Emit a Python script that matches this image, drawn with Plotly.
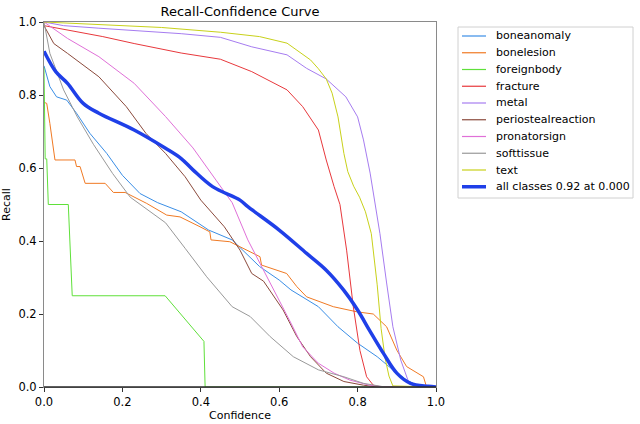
import plotly.graph_objects as go

# recall vs confidence
names = ["boneanomaly", "bonelesion", "foreignbody", "fracture", "metal",
         "periostealreaction", "pronatorsign", "softtissue", "text"]
colors = ["#3a8ee6", "#f07a24", "#5fe03a", "#e8383c", "#a67cf0",
          "#8b4a3c", "#e070d8", "#999999", "#c8d11a"]

boneanomaly_x = [0, 0.015, 0.032, 0.058, 0.083, 0.117, 0.16, 0.20, 0.245, 0.29, 0.35, 0.40,
                 0.42, 0.48, 0.55, 0.60, 0.63, 0.70, 0.75, 0.80, 0.85, 0.89, 0.925, 0.95, 1.0]
boneanomaly_y = [0.88, 0.823, 0.795, 0.786, 0.75, 0.695, 0.64, 0.58, 0.53, 0.505, 0.48, 0.444,
                 0.43, 0.403, 0.33, 0.293, 0.266, 0.22, 0.165, 0.12, 0.083, 0.047, 0.019, 0.005, 0.0]

bonelesion_x = [0, 0.007, 0.015, 0.028, 0.079, 0.083, 0.092, 0.105, 0.156, 0.177, 0.207, 0.262,
                0.313, 0.347, 0.398, 0.423, 0.426, 0.474, 0.551, 0.555, 0.619, 0.645, 0.67,
                0.738, 0.798, 0.84, 0.874, 0.90, 0.925, 0.968, 0.976, 1.0]
bonelesion_y = [0.78, 0.777, 0.722, 0.622, 0.622, 0.604, 0.604, 0.558, 0.558, 0.533, 0.533, 0.503,
                0.471, 0.466, 0.439, 0.425, 0.403, 0.398, 0.357, 0.334, 0.311, 0.275, 0.247,
                0.22, 0.206, 0.20, 0.165, 0.101, 0.056, 0.028, 0.0, 0.0]

foreignbody_x = [0, 0.003, 0.007, 0.011, 0.062, 0.072, 0.309, 0.408, 0.411, 1.0]
foreignbody_y = [0.875, 0.625, 0.625, 0.5, 0.5, 0.25, 0.25, 0.125, 0.0, 0.0]

fracture_x = [0, 0.05, 0.15, 0.23, 0.35, 0.45, 0.53, 0.62, 0.66, 0.70, 0.72, 0.74, 0.755,
              0.772, 0.789, 0.806, 0.823, 0.84, 0.86, 1.0]
fracture_y = [0.99, 0.98, 0.96, 0.941, 0.915, 0.898, 0.864, 0.814, 0.768, 0.704, 0.622, 0.549,
              0.50, 0.375, 0.22, 0.10, 0.028, 0.005, 0.0, 0.0]

metal_x = [0, 0.05, 0.14, 0.25, 0.35, 0.45, 0.53, 0.62, 0.67, 0.72, 0.77, 0.80, 0.815, 0.832,
           0.845, 0.857, 0.874, 0.89, 0.91, 0.93, 0.95, 1.0]
metal_y = [1.0, 0.99, 0.983, 0.975, 0.968, 0.958, 0.932, 0.91, 0.873, 0.844, 0.795, 0.74, 0.677,
           0.586, 0.50, 0.42, 0.285, 0.165, 0.074, 0.014, 0.0, 0.0]

periosteal_x = [0, 0.025, 0.06, 0.14, 0.21, 0.26, 0.31, 0.36, 0.40, 0.46, 0.50, 0.53, 0.56,
                0.61, 0.645, 0.68, 0.72, 0.765, 0.815, 0.85, 1.0]
periosteal_y = [0.99, 0.941, 0.914, 0.85, 0.768, 0.695, 0.64, 0.576, 0.512, 0.439, 0.375, 0.311,
                0.29, 0.211, 0.138, 0.083, 0.038, 0.015, 0.005, 0.0, 0.0]

pronator_x = [0, 0.06, 0.14, 0.23, 0.31, 0.38, 0.44, 0.48, 0.52, 0.56, 0.59, 0.63, 0.66, 0.70,
              0.74, 0.78, 0.83, 0.87, 1.0]
pronator_y = [1.0, 0.955, 0.905, 0.832, 0.741, 0.655, 0.565, 0.505, 0.403, 0.32, 0.26, 0.175,
              0.11, 0.065, 0.038, 0.019, 0.005, 0.0, 0.0]

softtissue_x = [0, 0.015, 0.05, 0.085, 0.126, 0.175, 0.22, 0.27, 0.31, 0.36, 0.415, 0.48, 0.526,
                0.577, 0.636, 0.70, 0.765, 0.815, 0.87, 1.0]
softtissue_y = [1.0, 0.914, 0.814, 0.74, 0.665, 0.585, 0.52, 0.48, 0.45, 0.38, 0.302, 0.22, 0.193,
                0.138, 0.083, 0.047, 0.028, 0.01, 0.0, 0.0]

text_x = [0, 0.1, 0.2, 0.3, 0.45, 0.55, 0.62, 0.68, 0.70, 0.72, 0.735, 0.75, 0.765, 0.775, 0.79,
          0.805, 0.82, 0.835, 0.85, 0.86, 0.87, 0.88, 0.89, 1.0]
text_y = [1.0, 0.995, 0.99, 0.985, 0.972, 0.96, 0.942, 0.896, 0.872, 0.844, 0.805, 0.74, 0.64,
          0.59, 0.55, 0.52, 0.48, 0.42, 0.28, 0.16, 0.08, 0.03, 0.003, 0.0]

all_x = [0, 0.03, 0.06, 0.1, 0.14, 0.23, 0.31, 0.35, 0.38, 0.43, 0.5, 0.52, 0.6, 0.67, 0.72,
         0.764, 0.8, 0.83, 0.866, 0.9, 0.935, 0.98, 1.0]
all_y = [0.92, 0.864, 0.832, 0.777, 0.75, 0.704, 0.654, 0.626, 0.595, 0.549, 0.512, 0.494, 0.43,
         0.366, 0.32, 0.266, 0.211, 0.156, 0.092, 0.038, 0.01, 0.002, 0.0]
all_label = "all classes 0.92 at 0.000"
all_color = "#1f3fe8"

curves = [(boneanomaly_x, boneanomaly_y), (bonelesion_x, bonelesion_y),
          (foreignbody_x, foreignbody_y), (fracture_x, fracture_y), (metal_x, metal_y),
          (periosteal_x, periosteal_y), (pronator_x, pronator_y),
          (softtissue_x, softtissue_y), (text_x, text_y)]

W, H = 640, 424
L, R, T, B = 44, 436, 22, 387  # plot area in pixels


def px_x(p):
    return (p - L) / (R - L)


def px_y(p):
    return (B - p) / (B - T)


fig = go.Figure()
for name, col, (xs, ys) in zip(names, colors, curves):
    fig.add_trace(go.Scatter(x=xs, y=ys, mode="lines", name=name,
                             line=dict(color=col, width=1)))
fig.add_trace(go.Scatter(x=all_x, y=all_y, mode="lines", name=all_label,
                         line=dict(color=all_color, width=3.5, shape="spline")))

# dark bottom edge where all curves pile up at zero
shapes = [dict(type="line", xref="paper", yref="paper", x0=0, x1=1, y0=0, y1=0,
               line=dict(color="#2a2a2a", width=1.3), layer="above")]

# matplotlib-style legend, drawn by hand so the row spacing matches
shapes.append(dict(type="rect", xref="paper", yref="paper",
                   x0=px_x(458), x1=px_x(633), y0=px_y(198), y1=px_y(27),
                   line=dict(color="#d0d0d0", width=1), fillcolor="white", layer="above"))
annotations = []
labels = names + [all_label]
cols = colors + [all_color]
for i, (lab, col) in enumerate(zip(labels, cols)):
    yc = 36 + i * 16.75
    shapes.append(dict(type="line", xref="paper", yref="paper",
                       x0=px_x(462), x1=px_x(486), y0=px_y(yc), y1=px_y(yc),
                       line=dict(color=col, width=3.5 if i == 9 else 1.2)))
    annotations.append(dict(text=lab, xref="paper", yref="paper", x=px_x(494), y=px_y(yc),
                            xanchor="left", yanchor="middle", showarrow=False,
                            font=dict(size=11, color="black")))

axis_style = dict(range=[0, 1], dtick=0.2, tickformat=".1f", showgrid=False, zeroline=False,
                  showline=True, linecolor="#8a8a8a", linewidth=1, mirror=True,
                  layer="above traces",
                  ticks="outside", ticklen=4, tickcolor="#333333", automargin=False,
                  tickfont=dict(size=11.5, color="black"))

fig.update_layout(
    width=W, height=H,
    font=dict(family="DejaVu Sans", color="black"),
    paper_bgcolor="white", plot_bgcolor="white",
    margin=dict(l=L, r=W - R, t=T, b=H - B, autoexpand=False),
    showlegend=False,
    title=dict(text="Recall-Confidence Curve", x=(L + R) / 2 / W, xanchor="center",
               y=1 - 11 / H, yanchor="middle", font=dict(size=13)),
    xaxis=dict(title=dict(text="Confidence", font=dict(size=11), standoff=0), **axis_style),
    yaxis=dict(title=dict(text="Recall", font=dict(size=11), standoff=6), **axis_style),
    shapes=shapes, annotations=annotations,
)

# the page's default 8px body margin would push the figure off the window
fig.write_html("out.html", config={"displayModeBar": False},
               post_script="document.body.style.margin='0';")
